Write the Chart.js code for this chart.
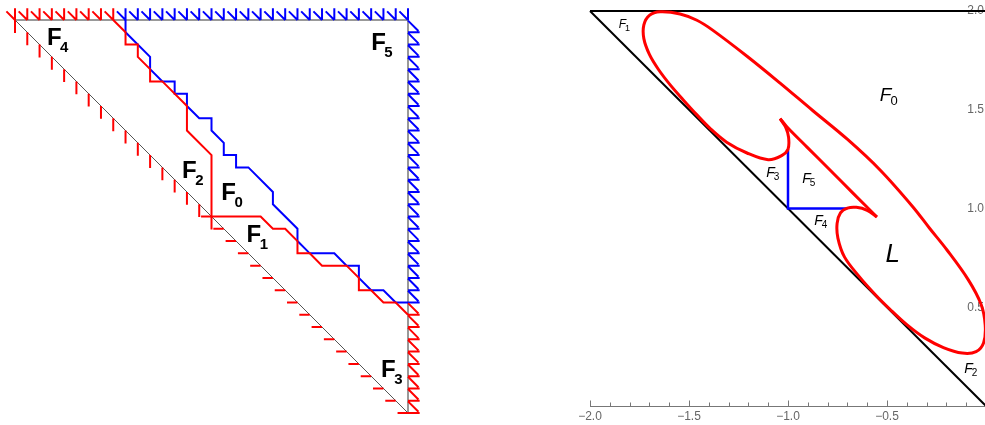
<!DOCTYPE html>
<html>
<head>
<meta charset="utf-8">
<title>Regions F0 - F5</title>
<script src="https://cdn.jsdelivr.net/npm/chart.js@4.4.0/dist/chart.umd.min.js"></script>
<style>
  html, body { margin: 0; padding: 0; background: #fff; overflow: hidden; width: 985px; height: 425px; }
  #lattice { position: absolute; left: 0; top: 0; }
  #phase { position: absolute; left: 560px; top: 0; }
</style>
</head>
<body>
<canvas id="lattice" width="420" height="425"></canvas>
<canvas id="phase" width="427" height="425"></canvas>
<script>
// ---- left: lattice paths in the 32 x 32 triangle (x to the right, y downwards)
var N = 32;
var redPath = [[8,0],[9,1],[9,2],[10,2],[10,3],[11,4],[11,5],[12,5],[14,7],[14,9],[16,11],[16,16],
  [20,16],[21,17],[22,17],[23,18],[23,19],[24,19],[25,20],[27,20],[28,21],[28,22],[29,22],[30,23],[31,23],[32,24]];
var bluePath = [[9,0],[9,1],[11,3],[11,4],[12,5],[13,5],[13,6],[14,6],[14,7],[15,8],[16,8],[16,9],[17,10],
  [17,11],[18,11],[18,12],[19,12],[21,14],[21,15],[23,17],[23,18],[24,19],[26,19],[27,20],[28,20],[28,21],
  [29,22],[30,22],[31,23],[32,23]];
// boundary cells carrying each colour of hatching
var topRed = [0, 8], topBlue = [9, 32];
var sideBlue = [1, 23], sideRed = [24, 32];
var diagDown = [0, 16], diagLeft = [16, 32];
var leftNames = ['4', '5', '2', '0', '1', '3'];

// ---- right: the curve in the (x, y) plane
var xTicks = [-2, -1.5, -1, -0.5];
var yTicks = [0.5, 1, 1.5, 2];
var curveOuter = [[-0.551,0.957],[-0.600,0.991],[-0.655,1.006],[-0.700,1.002],[-0.735,0.978],[-0.752,0.925],
  [-0.748,0.850],[-0.715,0.755],[-0.640,0.655],[-0.560,0.565],[-0.485,0.490],[-0.400,0.412],[-0.310,0.345],
  [-0.215,0.296],[-0.120,0.268],[-0.050,0.275],[-0.012,0.320],[-0.004,0.410],[-0.025,0.515],[-0.090,0.640],
  [-0.197,0.790],[-0.285,0.900],[-0.369,1.008],[-0.535,1.195],[-0.702,1.352],[-0.874,1.495],[-1.040,1.635],
  [-1.207,1.771],[-1.379,1.902],[-1.460,1.953],[-1.545,1.985],[-1.646,1.996],[-1.700,1.978],[-1.728,1.930],
  [-1.728,1.860],[-1.700,1.780],[-1.655,1.705],[-1.596,1.627],[-1.530,1.551],[-1.460,1.474],[-1.390,1.402],
  [-1.310,1.336],[-1.207,1.281],[-1.100,1.247],[-1.032,1.268],[-1.000,1.300],[-0.997,1.360],[-1.012,1.412],
  [-1.040,1.455]];
var curveInner = [[-1.040,1.455],[-1.005,1.413],[-0.904,1.311],[-0.788,1.195],[-0.672,1.078],[-0.551,0.957]];
var blueCorner = [[-1,1.3],[-1,1],[-0.7,1]];
var topEdge = [[-2,2],[0,2]];
var diagEdge = [[-2,2],[0,0]];

Chart.defaults.font.family = '"Liberation Sans", Arial, sans-serif';

function pts(a) { return a.map(function (p) { return {x: p[0], y: p[1]}; }); }

function line(data, color, width, tension) {
  return { data: data, showLine: true, borderColor: color, borderWidth: width, tension: tension || 0,
           pointRadius: 0, fill: false, clip: false, spanGaps: false };
}

// short tick marks along the triangle edges, broken up with empty points
function hatches(top, side, diag1, diag2) {
  var out = [];
  function seg(x1, y1, x2, y2) { out.push({x: x1, y: y1}, {x: x2, y: y2}, {x: null, y: null}); }
  var k;
  if (top) for (k = top[0]; k <= top[1]; k++) { seg(k, 0, k, -0.95); seg(k - 0.7, -0.7, k, 0); }
  if (side) for (k = side[0]; k <= side[1]; k++) { seg(N, k, N + 0.95, k); seg(N, k - 0.95, N + 0.85, k - 0.1); }
  if (diag1) for (k = diag1[0]; k <= diag1[1]; k++) seg(k, k, k, k + 1.05);
  if (diag2) for (k = diag2[0]; k <= diag2[1]; k++) seg(k, k, k - 0.85, k);
  return out;
}

var S = 393 / N;   // pixels per lattice step
var leftAt = [[2.6, 2.0], [29.0, 2.45], [13.6, 12.9], [16.8, 14.65], [18.85, 18.1], [29.8, 29.1]];

var leftNamesPlugin = {
  id: 'leftNames',
  afterDatasetsDraw: function (chart) {
    var ctx = chart.ctx, xs = chart.scales.x, ys = chart.scales.y;
    ctx.save();
    ctx.fillStyle = '#000';
    ctx.textBaseline = 'alphabetic';
    leftNames.forEach(function (sub, i) {
      var px = xs.getPixelForValue(leftAt[i][0]), py = ys.getPixelForValue(leftAt[i][1]);
      ctx.font = 'bold 24px "Liberation Sans", Arial, sans-serif';
      ctx.fillText('F', px, py);
      var w = ctx.measureText('F').width;
      ctx.font = 'bold 15px "Liberation Sans", Arial, sans-serif';
      ctx.fillText(sub, px + w - 1.5, py + 7);
    });
    ctx.restore();
  }
};

new Chart(document.getElementById('lattice'), {
  type: 'scatter',
  data: { datasets: [
    line(pts(redPath), '#ff0000', 2),
    line(pts(bluePath), '#0000ff', 2),
    line(hatches(topRed, sideRed, diagDown, diagLeft), '#ff0000', 2),
    line(hatches(topBlue, sideBlue), '#0000ff', 2),
    line(pts([[0,0],[N,N]]), '#555', 1),
    line(pts([[0,0],[N,0],[N,N]]), '#999', 2)
  ]},
  options: {
    responsive: false, animation: false, events: [],
    layout: { padding: 0 },
    plugins: { legend: { display: false }, tooltip: { enabled: false } },
    scales: {
      x: { type: 'linear', display: false, min: -15 / S, max: 405 / S },
      y: { type: 'linear', display: false, reverse: true, min: -20 / S, max: 405 / S }
    }
  },
  plugins: [leftNamesPlugin]
});

// ---- right chart
var rightNames = [
  { sub: '1', x: -1.855, y: 1.912, size: 12, subSize: 9 },
  { sub: '0', x: -0.536, y: 1.542, size: 19, subSize: 13 },
  { sub: '3', x: -1.110, y: 1.159, size: 14, subSize: 10 },
  { sub: '5', x: -0.928, y: 1.129, size: 14, subSize: 10 },
  { sub: '4', x: -0.868, y: 0.916, size: 14, subSize: 10 },
  { sub: '2', x: -0.110, y: 0.167, size: 14, subSize: 10 }
];

function fmt(v) { return (v < 0 ? '\u2212' : '') + Math.abs(v).toFixed(1); }

var phasePlugin = {
  id: 'phaseAxes',
  beforeDatasetsDraw: function (chart) {
    var ctx = chart.ctx, ys = chart.scales.y, area = chart.chartArea;
    ctx.save();
    ctx.fillStyle = '#666';
    ctx.font = '12px "Liberation Sans", Arial, sans-serif';
    ctx.textAlign = 'right';
    ctx.textBaseline = 'middle';
    yTicks.forEach(function (v) { ctx.fillText(fmt(v), area.right - 2, ys.getPixelForValue(v)); });
    ctx.restore();
  },
  afterDraw: function (chart) {
    var ctx = chart.ctx, xs = chart.scales.x, ys = chart.scales.y, y0 = chart.chartArea.bottom;
    ctx.save();
    ctx.strokeStyle = '#777';
    ctx.lineWidth = 1;
    for (var i = 0; i < 20; i++) {
      var px = Math.round(xs.getPixelForValue(-2 + i / 10)) + 0.5;
      ctx.beginPath();
      ctx.moveTo(px, y0);
      ctx.lineTo(px, y0 - (i % 5 === 0 ? 5.5 : 3.5));
      ctx.stroke();
    }
    ctx.fillStyle = '#000';
    ctx.textBaseline = 'alphabetic';
    rightNames.forEach(function (n) {
      var px = xs.getPixelForValue(n.x), py = ys.getPixelForValue(n.y);
      ctx.font = 'italic ' + n.size + 'px "Liberation Sans", Arial, sans-serif';
      ctx.fillText('F', px, py);
      var w = ctx.measureText('F').width;
      ctx.font = n.subSize + 'px "Liberation Sans", Arial, sans-serif';
      ctx.fillText(n.sub, px + w - 1, py + n.size * 0.2);
    });
    ctx.font = 'italic 26px "Liberation Sans", Arial, sans-serif';
    ctx.fillText('L', xs.getPixelForValue(-0.508), ys.getPixelForValue(0.729));
    ctx.restore();
  }
};

new Chart(document.getElementById('phase'), {
  type: 'scatter',
  data: { datasets: [
    line(pts(curveInner), '#ff0000', 3, 0.3),
    line(pts(curveOuter), '#ff0000', 3, 0.35),
    line(pts(blueCorner), '#0000ff', 2.5),
    line(pts(topEdge), '#000', 2),
    line(pts(diagEdge), '#000', 2)
  ]},
  options: {
    responsive: false, animation: false, events: [],
    layout: { padding: { left: 30, top: 11, right: 1, bottom: 0 } },
    plugins: { legend: { display: false }, tooltip: { enabled: false } },
    scales: {
      x: {
        type: 'linear', min: -2, max: 0,
        afterFit: function (s) { s.height = 19; },
        grid: { display: false, drawTicks: false },
        border: { display: true, color: '#777', width: 1 },
        afterBuildTicks: function (s) { s.ticks = xTicks.map(function (v) { return { value: v }; }); },
        ticks: { autoSkip: false, maxRotation: 0, padding: 3, color: '#666', font: { size: 12 },
                 callback: function (v) { return fmt(v); } }
      },
      y: { type: 'linear', min: 0, max: 2, display: false }
    }
  },
  plugins: [phasePlugin]
});
</script>
</body>
</html>
